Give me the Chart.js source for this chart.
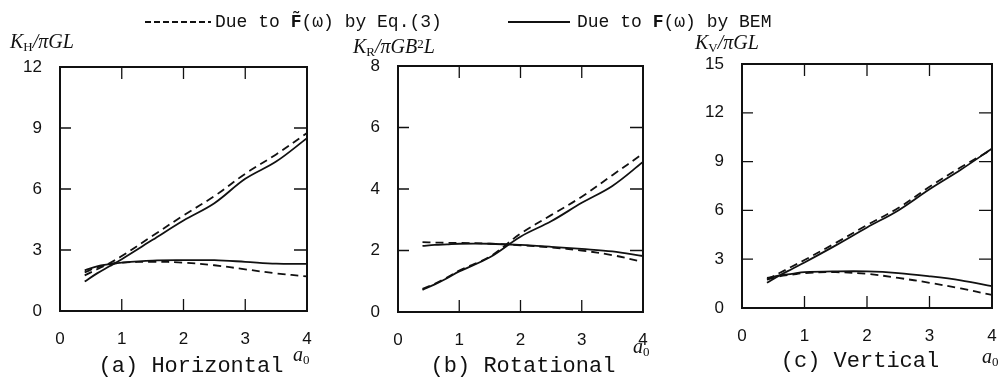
<!DOCTYPE html>
<html>
<head>
<meta charset="utf-8">
<script src="https://cdn.jsdelivr.net/npm/chart.js@4.4.1/dist/chart.umd.min.js"></script>
<style>
body { margin: 0; background: #fff; width: 1008px; height: 381px; position: relative; overflow: hidden; color: #111; font-family: "Liberation Mono", "DejaVu Sans Mono", monospace; }
.pan { position: absolute; top: 0; }
.t { position: absolute; white-space: nowrap; line-height: 24px; height: 24px; }
.leg { font-size: 18px; }
.cap { font-size: 22px; }
.lab { font-family: "Liberation Serif", serif; font-style: italic; font-size: 20px; }
.lab sub { font-size: 13px; font-style: normal; vertical-align: -3px; }
.lab sup { font-size: 13px; font-style: normal; vertical-align: 5px; }
.ln { position: absolute; height: 2px; }
.dash { background: repeating-linear-gradient(to right, #111 0 6px, transparent 6px 9px); }
.solid { background: #111; height: 1.6px; }
</style>
</head>
<body>
<div class="pan" style="left:0px"><canvas id="horiz" width="320" height="381"></canvas></div>
<div class="pan" style="left:330px"><canvas id="rot" width="325" height="381"></canvas></div>
<div class="pan" style="left:665px"><canvas id="vert" width="343" height="381"></canvas></div>

<!-- legend -->
<div class="ln dash" style="left:145px;top:21px;width:66px"></div>
<div class="t leg" style="left:215px;top:10px">Due to <b>F&#771;</b>(&omega;) by Eq.(3)</div>
<div class="ln solid" style="left:508px;top:21px;width:62px"></div>
<div class="t leg" style="left:577px;top:10px">Due to <b>F</b>(&omega;) by BEM</div>

<!-- axis titles -->
<div class="t lab" style="left:10px;top:29px">K<sub>H</sub>/&pi;GL</div>
<div class="t lab" style="left:353px;top:32px">K<sub>R</sub>/&pi;GB<sup>2</sup>L</div>
<div class="t lab" style="left:695px;top:30px">K<sub>V</sub>/&pi;GL</div>

<div class="t lab" style="left:293px;top:342px">a<sub>0</sub></div>
<div class="t lab" style="left:633px;top:334px">a<sub>0</sub></div>
<div class="t lab" style="left:982px;top:344px">a<sub>0</sub></div>

<!-- captions -->
<div class="t cap" style="left:191px;top:355px;transform:translateX(-50%)">(a) Horizontal</div>
<div class="t cap" style="left:523px;top:355px;transform:translateX(-50%)">(b) Rotational</div>
<div class="t cap" style="left:860px;top:350px;transform:translateX(-50%)">(c) Vertical</div>

<script>
// dimensionless frequency a0
var a0 = [0.4, 0.6, 0.8, 1.0, 1.5, 2.0, 2.5, 3.0, 3.5, 4.0];

// (a) horizontal
var hRiseEq  = [1.75, 2.05, 2.35, 2.7, 3.7, 4.7, 5.65, 6.75, 7.7, 8.75];
var hRiseBem = [1.45, 1.85, 2.2, 2.55, 3.5, 4.45, 5.3, 6.5, 7.35, 8.5];
var hFlatEq  = [1.9, 2.15, 2.3, 2.38, 2.42, 2.38, 2.25, 2.05, 1.85, 1.7];
var hFlatBem = [2.0, 2.2, 2.3, 2.38, 2.48, 2.5, 2.5, 2.42, 2.33, 2.32];

// (b) rotational
var rRiseEq  = [0.75, 0.92, 1.12, 1.35, 1.8, 2.55, 3.15, 3.75, 4.45, 5.15];
var rRiseBem = [0.72, 0.9, 1.1, 1.32, 1.78, 2.45, 2.95, 3.55, 4.1, 4.88];
var rFlatEq  = [2.27, 2.26, 2.25, 2.25, 2.22, 2.17, 2.1, 2.0, 1.85, 1.63];
var rFlatBem = [2.15, 2.18, 2.2, 2.22, 2.22, 2.18, 2.12, 2.05, 1.97, 1.82];

// (c) vertical
var vRiseEq  = [1.75, 2.15, 2.55, 2.95, 4.0, 5.1, 6.15, 7.45, 8.65, 9.75];
var vRiseBem = [1.55, 2.0, 2.4, 2.8, 3.85, 4.95, 6.0, 7.3, 8.5, 9.8];
var vFlatEq  = [1.75, 1.95, 2.05, 2.15, 2.2, 2.1, 1.85, 1.55, 1.2, 0.8];
var vFlatBem = [1.85, 2.0, 2.1, 2.2, 2.25, 2.25, 2.15, 1.95, 1.7, 1.35];

var xTicks = [0, 1, 2, 3, 4];

function pts(ys) {
    return ys.map(function (y, i) { return { x: a0[i], y: y }; });
}

function line(ys, dashed) {
    return {
        data: pts(ys),
        borderColor: "#111",
        borderWidth: 1.8,
        borderDash: dashed ? [8, 5] : [],
        pointRadius: 0,
        tension: 0.35,
        fill: false
    };
}

// box around the plot area with short ticks pointing inwards
var frame = {
    id: "frame",
    afterDatasetsDraw: function (chart) {
        var ctx = chart.ctx, a = chart.chartArea;
        var xs = chart.scales.x, ys = chart.scales.y;
        ctx.save();
        ctx.strokeStyle = "#111";
        ctx.lineWidth = 2;
        ctx.setLineDash([]);
        ctx.strokeRect(a.left, a.top, a.right - a.left, a.bottom - a.top);
        ctx.lineWidth = 1.3;
        ctx.beginPath();
        xs.ticks.forEach(function (t) {
            if (t.value <= xs.min || t.value >= xs.max) return;
            var px = xs.getPixelForValue(t.value);
            ctx.moveTo(px, a.bottom); ctx.lineTo(px, a.bottom - 12);
            ctx.moveTo(px, a.top); ctx.lineTo(px, a.top + 12);
        });
        ys.ticks.forEach(function (t) {
            if (t.value <= ys.min || t.value >= ys.max) return;
            var py = ys.getPixelForValue(t.value);
            ctx.moveTo(a.left, py); ctx.lineTo(a.left + 11, py);
            ctx.moveTo(a.right, py); ctx.lineTo(a.right - 13, py);
        });
        ctx.stroke();
        ctx.restore();
    }
};

function panel(id, sets, yMax, yStep, yWidth, xHeight, padTop, padRight) {
    var ctx = document.getElementById(id).getContext("2d");
    return new Chart(ctx, {
        type: "line",
        data: {
            datasets: [
                line(sets[0], true),
                line(sets[1], false),
                line(sets[2], true),
                line(sets[3], false)
            ]
        },
        options: {
            responsive: false,
            animation: false,
            layout: { autoPadding: false, padding: { top: padTop, right: padRight, bottom: 0, left: 0 } },
            plugins: { legend: { display: false }, tooltip: { enabled: false } },
            scales: {
                x: {
                    type: "linear", min: 0, max: 4,
                    afterBuildTicks: function (s) { s.ticks = xTicks.map(function (v) { return { value: v }; }); },
                    afterFit: function (s) { s.height = xHeight; s.paddingLeft = 0; s.paddingRight = 0; },
                    grid: { display: false, drawTicks: false },
                    border: { display: false },
                    ticks: { color: "#111", padding: 18, font: { family: "Liberation Sans", size: 17 }, maxRotation: 0 }
                },
                y: {
                    min: 0, max: yMax,
                    ticks: { stepSize: yStep, color: "#111", padding: 18, font: { family: "Liberation Sans", size: 17 } },
                    afterFit: function (s) { s.width = yWidth; s.paddingTop = 0; s.paddingBottom = 0; },
                    grid: { display: false, drawTicks: false },
                    border: { display: false }
                }
            }
        },
        plugins: [frame]
    });
}

panel("horiz", [hRiseEq, hRiseBem, hFlatEq, hFlatBem], 12, 3, 60, 70, 67, 13);
panel("rot",   [rRiseEq, rRiseBem, rFlatEq, rFlatBem], 8, 2, 68, 69, 66, 12);
panel("vert",  [vRiseEq, vRiseBem, vFlatEq, vFlatBem], 15, 3, 77, 73, 64, 16);
</script>
</body>
</html>
